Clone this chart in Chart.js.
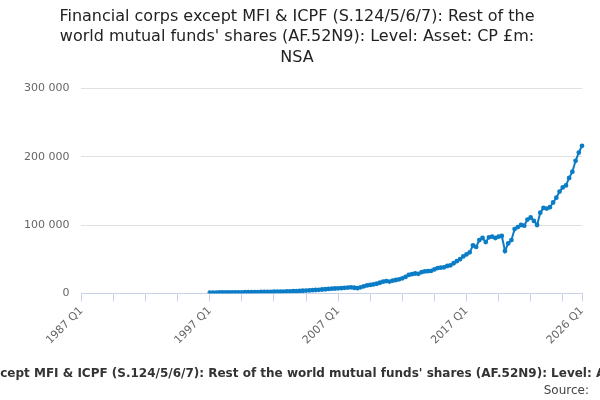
<!DOCTYPE html>
<html>
<head>
<meta charset="utf-8">
<script src="https://cdn.jsdelivr.net/npm/chart.js@4"></script>
<style>
  html, body { margin: 0; padding: 0; background: #fff; }
  #wrap { width: 600px; height: 400px; position: relative; }
</style>
</head>
<body>
<div id="wrap"><canvas id="chart" width="600" height="400"></canvas></div>
<script>
// quarterly categories 1987 Q1 .. 2026 Q1
const startYear = 1987;
const quarters = [];
for (let y = startYear; y <= 2026; y++) {
  for (let q = 1; q <= 4; q++) {
    if (y === 2026 && q > 1) break;
    quarters.push(y + ' Q' + q);
  }
}
const tickLabels = ['1987 Q1', '1997 Q1', '2007 Q1', '2017 Q1', '2026 Q1'];

// £m, 1997 Q1 onwards (thousands)
const levelK = [
  1.0,1.1,1.1,1.2,1.2,1.3,1.3,1.4,1.4,1.5,
  1.5,1.6,1.7,1.7,1.8,1.9,2.0,2.0,2.1,2.2,
  2.3,2.4,2.5,2.6,2.8,2.9,3.1,3.3,3.5,3.8,
  4.0,4.3,4.6,4.9,5.2,5.6,6.0,6.4,6.8,7.1,
  7.3,7.6,8.0,8.4,8.8,8.2,7.6,8.8,10.2,11.5,
  12.3,13.1,14.0,15.5,17.0,18.0,17.2,18.5,19.5,20.5,
  22.0,24.0,27.0,28.0,29.0,28.5,31.0,32.0,32.5,33.0,
  35.0,37.0,37.5,38.0,40.0,41.0,44.0,47.0,50.0,54.0,
  57.0,60.0,70.0,68.0,78.0,81.0,75.0,82.0,83.0,81.0,
  83.0,84.0,62.0,73.0,78.0,94.0,97.0,100.0,99.0,108.0,
  111.0,106.0,100.0,118.0,125.0,124.0,126.0,133.0,140.0,149.0,
  155.0,158.0,169.0,178.0,194.0,206.0,216.0
];
const firstIndex = quarters.indexOf('1997 Q1');
const series = quarters.map((_, i) => i < firstIndex ? null : levelK[i - firstIndex] * 1000);

const titleLines = [
  'Financial corps except MFI & ICPF (S.124/5/6/7): Rest of the',
  "world mutual funds' shares (AF.52N9): Level: Asset: CP £m:",
  'NSA'
];
const seriesName = "Financial corps except MFI & ICPF (S.124/5/6/7): Rest of the world mutual funds' shares (AF.52N9): Level: Asset: CP £m: NSA";
const FONT = '"DejaVu Sans", sans-serif';

const footer = {
  id: 'footer',
  afterDraw(chart) {
    const c = chart.ctx;
    c.save();
    c.font = 'bold 12px ' + FONT;
    c.fillStyle = '#333';
    c.textAlign = 'center';
    c.textBaseline = 'middle';
    c.fillText(seriesName, 300, 374);
    c.font = '12px ' + FONT;
    c.fillStyle = '#444';
    c.textAlign = 'right';
    c.fillText('Source:', 589, 391);
    c.restore();
  }
};

new Chart(document.getElementById('chart'), {
  type: 'line',
  data: {
    labels: quarters,
    datasets: [{
      label: seriesName,
      data: series,
      borderColor: '#0b7dc6',
      backgroundColor: '#0b7dc6',
      borderWidth: 2,
      pointRadius: 1.4,
      pointHoverRadius: 3,
      tension: 0,
      spanGaps: false
    }]
  },
  options: {
    responsive: false,
    animation: false,
    layout: { padding: { left: 12, right: 18, bottom: 50, top: 0 } },
    plugins: {
      legend: { display: false },
      tooltip: { enabled: false },
      title: {
        display: true,
        text: titleLines,
        color: '#222',
        font: { family: FONT, size: 16, weight: 'normal', lineHeight: 1.3 },
        padding: { top: 6, bottom: 20 }
      }
    },
    scales: {
      x: {
        type: 'category',
        offset: false,
        border: { color: '#c8d2e6' },
        grid: {
          drawOnChartArea: false,
          tickLength: 8,
          color: (ctx) => (ctx.index % 10 === 0 || ctx.index === quarters.length - 1) ? '#c8d2e6' : 'rgba(0,0,0,0)'
        },
        ticks: {
          autoSkip: false,
          maxRotation: 45,
          minRotation: 45,
          color: '#666',
          font: { family: FONT, size: 11 },
          callback: (v, i) => tickLabels.includes(quarters[i]) ? quarters[i] : ''
        }
      },
      y: {
        min: 0,
        max: 300000,
        border: { display: false },
        grid: { color: '#e0e0e0', drawTicks: false },
        ticks: {
          stepSize: 100000,
          padding: 12,
          color: '#666',
          font: { family: FONT, size: 11 },
          callback: (v) => String(v).replace(/\B(?=(\d{3})+(?!\d))/g, ' ')
        }
      }
    }
  },
  plugins: [footer]
});
</script>
</body>
</html>
